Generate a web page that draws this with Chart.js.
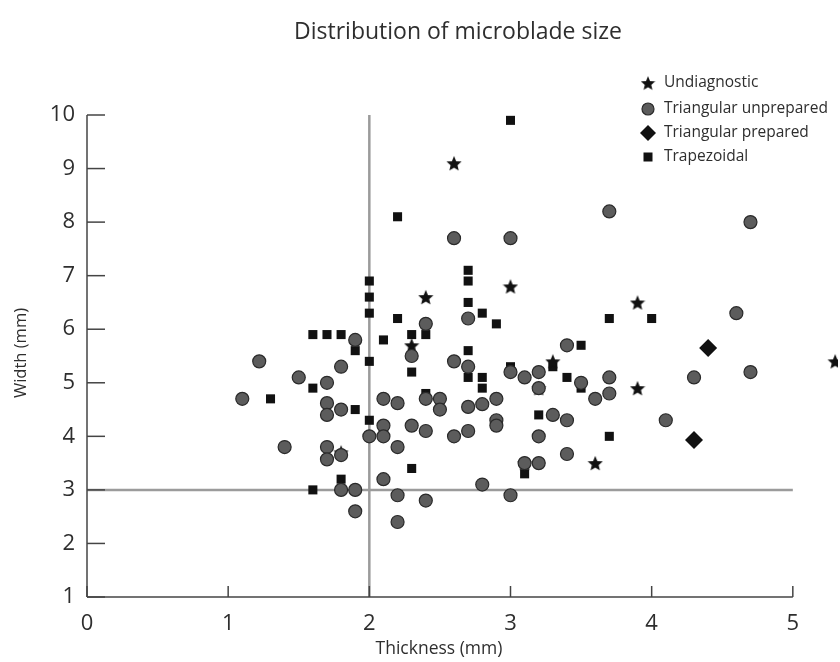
<!DOCTYPE html>
<html>
<head>
<meta charset="utf-8">
<script src="https://cdn.jsdelivr.net/npm/chart.js@4"></script>
<style>
  html, body { margin: 0; padding: 0; background: #fff; }
  #wrap { width: 840px; height: 662px; }
</style>
</head>
<body>
<div id="wrap"><canvas id="microblades"></canvas></div>
<script>
// data (thickness mm, width mm)
const seriesNames = ['Undiagnostic', 'Triangular unprepared', 'Triangular prepared', 'Trapezoidal'];

const undiagThickness = [2.6, 2.4, 3.0, 3.9, 2.3, 3.3, 5.3, 3.9, 3.2, 3.6, 3.1, 1.8];
const undiagWidth     = [9.1, 6.6, 6.8, 6.5, 5.7, 5.4, 5.4, 4.9, 4.9, 3.5, 3.5, 3.7];

const triUnprepThickness = [1.1, 1.22, 1.4, 1.5, 1.7, 1.7, 1.7, 1.7, 1.7, 1.8, 1.8, 1.8, 1.8, 1.9, 1.9, 1.9,
  2.0, 2.1, 2.1, 2.1, 2.1, 2.2, 2.2, 2.2, 2.2, 2.3, 2.3, 2.4, 2.4, 2.4, 2.4, 2.5, 2.5,
  2.6, 2.6, 2.6, 2.7, 2.7, 2.7, 2.7, 2.8, 2.8, 2.9, 2.9, 2.9, 3.0, 3.0, 3.0, 3.1, 3.1,
  3.2, 3.2, 3.2, 3.2, 3.3, 3.4, 3.4, 3.4, 3.5, 3.6, 3.7, 3.7, 3.7, 4.1, 4.3, 4.6, 4.7, 4.7];
const triUnprepWidth = [4.7, 5.4, 3.8, 5.1, 5.0, 4.62, 4.4, 3.8, 3.57, 5.3, 4.5, 3.65, 3.0, 5.8, 3.0, 2.6,
  4.0, 4.7, 4.2, 4.0, 3.2, 4.62, 3.8, 2.9, 2.4, 5.5, 4.2, 6.1, 4.7, 4.1, 2.8, 4.7, 4.5,
  7.7, 5.4, 4.0, 6.2, 5.3, 4.55, 4.1, 4.6, 3.1, 4.7, 4.3, 4.2, 7.7, 5.2, 2.9, 5.1, 3.5,
  5.2, 4.9, 4.0, 3.5, 4.4, 5.7, 4.3, 3.67, 5.0, 4.7, 8.2, 5.1, 4.8, 4.3, 5.1, 6.3, 8.0, 5.2];

const triPrepThickness = [4.4, 4.3];
const triPrepWidth     = [5.65, 3.93];

const trapThickness = [1.3, 1.6, 1.7, 1.8, 1.9, 1.6, 1.9, 1.6, 1.8, 2.0, 2.0, 2.0, 2.0, 2.0, 2.1,
  2.2, 2.2, 2.3, 2.4, 2.3, 2.3, 2.4, 2.7, 2.7, 2.7, 2.7, 2.7, 2.8, 2.8, 2.8, 2.9,
  3.0, 3.0, 3.1, 3.2, 3.3, 3.4, 3.5, 3.5, 3.7, 3.7, 4.0];
const trapWidth = [4.7, 5.9, 5.9, 5.9, 5.6, 4.9, 4.5, 3.0, 3.2, 6.9, 6.6, 6.3, 5.4, 4.3, 5.8,
  8.1, 6.2, 5.9, 5.9, 5.2, 3.4, 4.8, 7.1, 6.9, 6.5, 5.6, 5.1, 6.3, 5.1, 4.9, 6.1,
  9.9, 5.3, 3.3, 4.4, 5.3, 5.1, 5.7, 4.9, 6.2, 4.0, 6.2];

// cut-off lines
const refThickness = 2;
const refWidth = 3;

const xTicks = [0, 1, 2, 3, 4, 5];
const yTicks = [1, 2, 3, 4, 5, 6, 7, 8, 9, 10];
const xAxisEnd = 5;     // drawn axis stops here
const xScaleMax = 5.32; // one point lies past the axis end

const FONT = '"Open Sans", "Noto Sans", sans-serif';
const TEXT = '#2e2e2e';

function pairs(xs, ys) {
  return xs.map((v, i) => ({ x: v, y: ys[i] }));
}

function makeStar(size, color) {
  const c = document.createElement('canvas');
  c.width = size; c.height = size;
  const g = c.getContext('2d');
  const cx = size / 2, cy = size / 2 + 0.8, R = size / 2, r = R * 0.45;
  g.beginPath();
  for (let i = 0; i < 10; i++) {
    const rad = i % 2 ? r : R;
    const a = -Math.PI / 2 + i * Math.PI / 5;
    g.lineTo(cx + rad * Math.cos(a), cy + rad * Math.sin(a));
  }
  g.closePath();
  g.fillStyle = color;
  g.fill();
  return c;
}
const starImg = makeStar(16, '#111');

const decor = {
  id: 'decor',
  beforeDatasetsDraw(chart) {
    const { ctx, chartArea: a, scales: { x, y } } = chart;
    const line = (x1, y1, x2, y2) => { ctx.beginPath(); ctx.moveTo(x1, y1); ctx.lineTo(x2, y2); ctx.stroke(); };
    const right = x.getPixelForValue(xAxisEnd);
    ctx.save();
    // grey reference lines
    ctx.strokeStyle = '#9b9b9b';
    ctx.lineWidth = 2.5;
    const xr = x.getPixelForValue(refThickness);
    const yr = y.getPixelForValue(refWidth);
    line(xr, a.top, xr, a.bottom);
    line(a.left, yr, right, yr);
    // axes with inward ticks
    ctx.strokeStyle = '#444';
    ctx.lineWidth = 1.5;
    line(a.left, a.top, a.left, a.bottom);
    line(a.left, a.bottom, right, a.bottom);
    yTicks.forEach(v => { const p = y.getPixelForValue(v); line(a.left, p, a.left + 18, p); });
    xTicks.forEach(v => { const p = x.getPixelForValue(v); line(p, a.bottom, p, a.bottom - 11); });
    ctx.restore();
  },
  afterDraw(chart) {
    const { ctx } = chart;
    ctx.save();
    ctx.fillStyle = TEXT;
    ctx.textAlign = 'center';
    ctx.textBaseline = 'middle';
    ctx.font = '23px ' + FONT;
    ctx.fillText('Distribution of microblade size', 458, 32);
    ctx.font = '17.5px ' + FONT;
    ctx.fillText('Thickness (mm)', 439, 649);
    ctx.font = '16.5px ' + FONT;
    ctx.translate(21, 353);
    ctx.rotate(-Math.PI / 2);
    ctx.fillText('Width (mm)', 0, 0);
    ctx.restore();

    // legend
    ctx.save();
    const lx = 648, ly = [83, 109, 133, 157];
    ctx.font = '15.5px ' + FONT;
    ctx.fillStyle = TEXT;
    ctx.textAlign = 'left';
    ctx.textBaseline = 'middle';
    seriesNames.forEach((name, i) => ctx.fillText(name, lx + 16, ly[i]));
    ctx.drawImage(starImg, lx - 7.5, ly[0] - 7.5, 15, 15);
    ctx.beginPath();
    ctx.arc(lx, ly[1], 6, 0, Math.PI * 2);
    ctx.fillStyle = '#5c5c5c'; ctx.fill();
    ctx.strokeStyle = '#2a2a2a'; ctx.lineWidth = 1.2; ctx.stroke();
    ctx.fillStyle = '#111';
    ctx.beginPath();
    ctx.moveTo(lx, ly[2] - 8); ctx.lineTo(lx + 8, ly[2]); ctx.lineTo(lx, ly[2] + 8); ctx.lineTo(lx - 8, ly[2]);
    ctx.closePath(); ctx.fill();
    ctx.fillRect(lx - 4.5, ly[3] - 4.5, 9, 9);
    ctx.restore();
  }
};

const chart = new Chart(document.getElementById('microblades'), {
  type: 'scatter',
  data: {
    datasets: [{
      label: seriesNames[0],
      data: pairs(undiagThickness, undiagWidth),
      pointStyle: starImg,
      order: 1
    }, {
      label: seriesNames[1],
      data: pairs(triUnprepThickness, triUnprepWidth),
      pointStyle: 'circle',
      pointRadius: 6.5,
      backgroundColor: '#5c5c5c',
      borderColor: '#2a2a2a',
      borderWidth: 1.2,
      order: 0
    }, {
      label: seriesNames[2],
      data: pairs(triPrepThickness, triPrepWidth),
      pointStyle: 'rectRot',
      pointRadius: 9,
      backgroundColor: '#111',
      borderWidth: 0,
      order: 2
    }, {
      label: seriesNames[3],
      data: pairs(trapThickness, trapWidth),
      pointStyle: 'rect',
      pointRadius: 6.4,
      backgroundColor: '#111',
      borderWidth: 0,
      order: 3
    }]
  },
  options: {
    responsive: true,
    maintainAspectRatio: false,
    animation: false,
    layout: { autoPadding: false, padding: { top: 115, right: 2, left: 0, bottom: 0 } },
    plugins: {
      legend: { display: false },
      title: { display: false },
      tooltip: { enabled: false }
    },
    scales: {
      x: {
        type: 'linear',
        min: 0,
        max: xScaleMax,
        grid: { display: false, drawTicks: false },
        border: { display: false },
        afterBuildTicks: s => { s.ticks = xTicks.map(v => ({ value: v })); },
        ticks: { stepSize: 1, autoSkip: false, includeBounds: false, padding: 14, color: TEXT, font: { family: FONT, size: 22 } },
        afterFit: s => { s.height = 65; s.paddingLeft = 0; s.paddingRight = 0; }
      },
      y: {
        type: 'linear',
        min: 1,
        max: 10,
        grid: { display: false, drawTicks: false },
        border: { display: false },
        ticks: { stepSize: 1, autoSkip: false, padding: 12, color: TEXT, font: { family: FONT, size: 22 } },
        afterFit: s => { s.width = 87; s.paddingTop = 0; s.paddingBottom = 0; }
      }
    }
  },
  plugins: [decor]
});
</script>
</body>
</html>
